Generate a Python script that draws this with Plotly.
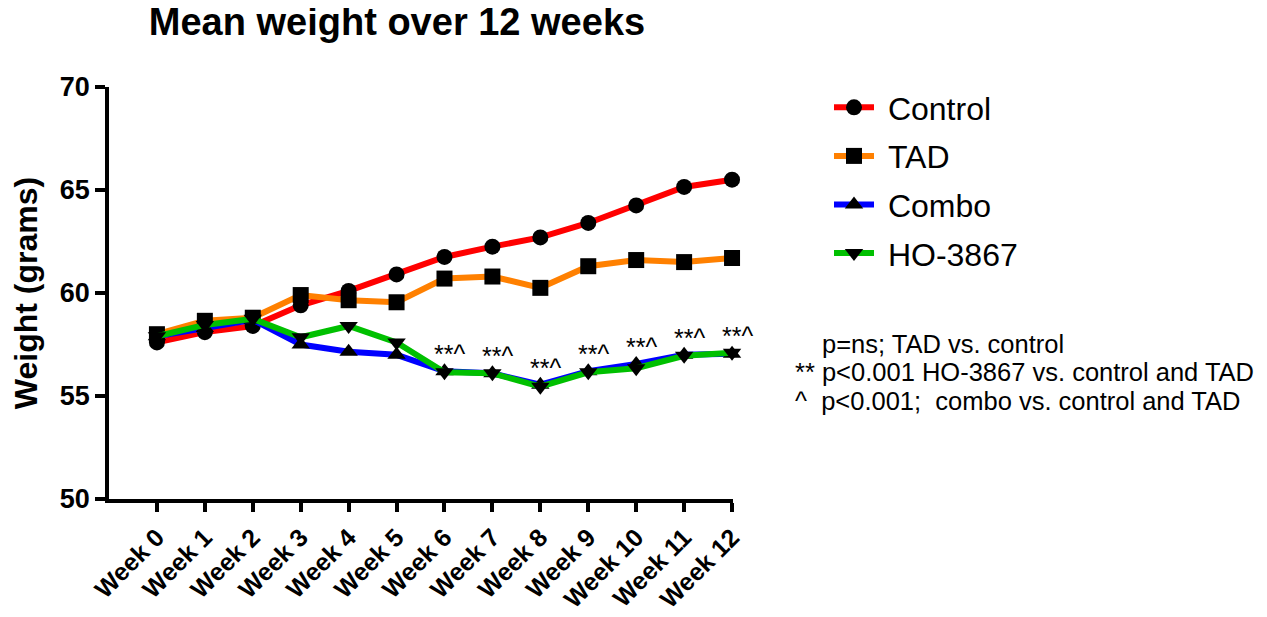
import plotly.graph_objects as go

weeks = ["Week 0", "Week 1", "Week 2", "Week 3", "Week 4", "Week 5", "Week 6",
         "Week 7", "Week 8", "Week 9", "Week 10", "Week 11", "Week 12"]
control = [57.6, 58.1, 58.4, 59.4, 60.1, 60.9, 61.75, 62.25, 62.7, 63.4, 64.25, 65.15, 65.5]
tad = [58.0, 58.65, 58.8, 59.9, 59.65, 59.55, 60.7, 60.8, 60.25, 61.3, 61.6, 61.5, 61.7]
combo = [57.9, 58.3, 58.7, 57.5, 57.15, 57.0, 56.2, 56.1, 55.55, 56.2, 56.55, 57.0, 57.05]
ho3867 = [57.9, 58.45, 58.75, 57.85, 58.4, 57.6, 56.15, 56.1, 55.45, 56.15, 56.35, 56.95, 57.1]
sig_weeks = [6, 7, 8, 9, 10, 11, 12]
sig_label = "**^"
notes = ["p=ns; TAD vs. control",
         "** p<0.001 HO-3867 vs. control and TAD",
         "^&nbsp; p<0.001;&nbsp; combo vs. control and TAD"]

FONT = "Liberation Sans, Arial, sans-serif"
xs = list(range(len(weeks)))

# page body has an 8px margin; figure coordinates = page coordinates - OFF
OFF = 8
FW, FH = 1267 - OFF, 617 - OFF
L, R, T, B = 109 - OFF, 733 - OFF, 87 - OFF, 499 - OFF
W_PX, H_PX = R - L, B - T

series = [
    ("Control", control, "#FF0000", "circle"),
    ("TAD", tad, "#FF8000", "square"),
    ("Combo", combo, "#0000FF", "triangle-up"),
    ("HO-3867", ho3867, "#00C000", "triangle-down"),
]

fig = go.Figure()
for i, (name, vals, col, sym) in enumerate(series):
    fig.add_trace(go.Scatter(
        x=xs, y=vals, name="&nbsp;" + name, mode="lines+markers",
        line=dict(color=col, width=6),
        marker=dict(symbol=sym, size=16, color="black"),
        cliponaxis=False, legendgroup=str(i),
    ))

annotations = []
for w in sig_weeks:
    yv = max(combo[w], ho3867[w])
    annotations.append(dict(x=w, y=yv, xref="x", yref="y", text=sig_label,
                            showarrow=False, xshift=5, yshift=17, yanchor="middle",
                            font=dict(family=FONT, size=25, color="black")))

note_pos = [(820, 344), (793, 372), (793, 401)]
for (px, py), t in zip(note_pos, notes):
    fx, fy = px - OFF, py - OFF
    annotations.append(dict(x=(fx - L) / W_PX, y=(B - fy) / H_PX, xref="paper", yref="paper",
                            text=t, showarrow=False, xanchor="left", yanchor="middle",
                            font=dict(family=FONT, size=25.5, color="black")))

fig.update_layout(
    width=FW, height=FH,
    margin=dict(l=L, r=FW - R, t=T, b=FH - B, autoexpand=False),
    plot_bgcolor="white", paper_bgcolor="white",
    font=dict(family=FONT, color="black"),
    title=dict(text="<b>Mean weight over 12 weeks</b>", x=(397 - OFF) / FW, xref="container",
               xanchor="center", y=1.0, yref="container", yanchor="top",
               pad=dict(t=0, b=0, l=0, r=0),
               font=dict(family=FONT, size=38, color="black")),
    showlegend=True,
    legend=dict(x=(829 - OFF - L) / W_PX, y=(B - (80 - OFF)) / H_PX, xanchor="left", yanchor="top",
                font=dict(family=FONT, size=32, color="black"),
                tracegroupgap=4, itemwidth=40, bgcolor="rgba(0,0,0,0)"),
    annotations=annotations,
)
fig.update_xaxes(
    range=[-1.0, 12.02], tickmode="array", tickvals=xs, ticktext=weeks,
    tickangle=-45, showline=True, linecolor="black", linewidth=3.5,
    ticks="outside", ticklen=9, tickwidth=3.5, tickcolor="black",
    showgrid=False, zeroline=False, automargin=False, ticklabelstandoff=1,
    tickfont=dict(family=FONT, size=25, color="black", weight="bold"),
)
fig.update_yaxes(
    range=[50, 70], tickvals=[50, 55, 60, 65, 70],
    showline=True, linecolor="black", linewidth=3.5,
    ticks="outside", ticklen=10, tickwidth=3.5, tickcolor="black",
    showgrid=False, zeroline=False, automargin=False,
    tickfont=dict(family=FONT, size=27, color="black", weight="bold"),
    title=dict(text="<b>Weight (grams)</b>", standoff=18,
               font=dict(family=FONT, size=32, color="black")),
)
fig.write_html("out.html")
